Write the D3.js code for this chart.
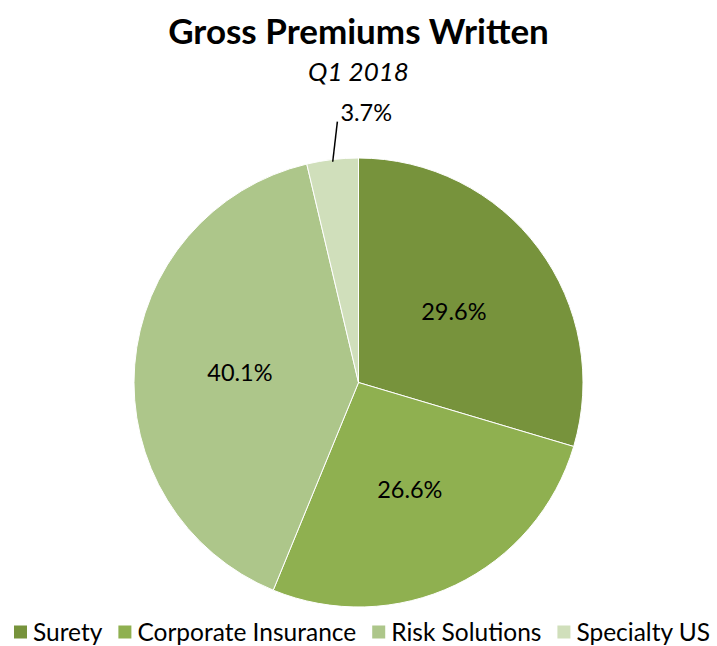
<!DOCTYPE html>
<html>
<head>
<meta charset="utf-8">
<script src="https://cdn.jsdelivr.net/npm/d3@7"></script>
<style>
  body { margin: 0; background: #fff; }
  text { font-family: Lato, "Open Sans", sans-serif; }
</style>
</head>
<body>
<div id="chart"></div>
<script>
var categories = ["Surety", "Corporate Insurance", "Risk Solutions", "Specialty US"];
var shares = [29.6, 26.6, 40.1, 3.7];
var colours = ["#77933c", "#8fb050", "#adc68a", "#d0dfbb"];

(function() {
    var width = 717,
        height = 646,
        cx = 358.5,
        cy = 382.5,
        radius = 224.5;

    var svg = d3.select("#chart")
        .append("svg")
        .attr("width", width)
        .attr("height", height);

    svg.append("text")
        .attr("x", cx)
        .attr("y", 44)
        .attr("text-anchor", "middle")
        .style("font-size", "35px")
        .style("font-weight", "bold")
        .text("Gross Premiums Written");

    svg.append("text")
        .attr("x", cx)
        .attr("y", 81)
        .attr("text-anchor", "middle")
        .style("font-size", "26px")
        .style("font-style", "italic")
        .text("Q1 2018");

    var data = categories.map(function(c, i) {
        return { name: c, value: shares[i], colour: colours[i] };
    });

    var pie = d3.pie().sort(null).value(function(d) { return d.value; });
    var arc = d3.arc().innerRadius(0).outerRadius(radius);

    var g = svg.append("g").attr("transform", "translate(" + cx + "," + cy + ")");
    var arcs = pie(data);

    g.selectAll(".slice")
        .data(arcs)
        .enter().append("path")
        .attr("class", "slice")
        .attr("d", arc)
        .attr("fill", function(d) { return d.data.colour; })
        .attr("stroke", "#fff")
        .attr("stroke-width", 1);

    var fmt = function(v) { return v.toFixed(1) + "%"; };

    arcs.forEach(function(d) {
        var mid = (d.startAngle + d.endAngle) / 2;
        if (d.data.value > 10) {
            var r = radius * 0.53;
            g.append("text")
                .attr("x", Math.sin(mid) * r)
                .attr("y", -Math.cos(mid) * r)
                .attr("dy", "0.35em")
                .attr("text-anchor", "middle")
                .style("font-size", "23.5px")
                .text(fmt(d.data.value));
        } else {
            var p0 = [Math.sin(mid) * radius * 0.99, -Math.cos(mid) * radius * 0.99];
            var p1 = [Math.sin(mid) * radius * 1.08 + 7, -Math.cos(mid) * radius * 1.08 - 20];
            g.append("line")
                .attr("x1", p0[0]).attr("y1", p0[1])
                .attr("x2", p1[0]).attr("y2", p1[1])
                .attr("stroke", "#000")
                .attr("stroke-width", 1.5);
            g.append("text")
                .attr("x", p1[0] + 3)
                .attr("y", p1[1] - 1)
                .style("font-size", "23.5px")
                .text(fmt(d.data.value));
        }
    });

    // legend, laid out from measured text widths
    var legend = svg.append("g").attr("transform", "translate(0,632)");
    var x = 14;
    data.forEach(function(d) {
        legend.append("rect")
            .attr("x", x)
            .attr("y", -6.5)
            .attr("width", 13)
            .attr("height", 13)
            .attr("fill", d.colour);
        var t = legend.append("text")
            .attr("x", x + 19)
            .attr("dy", "0.36em")
            .style("font-size", "24.5px")
            .text(d.name);
        x += 19 + t.node().getComputedTextLength() + 16;
    });
})();
</script>
</body>
</html>
